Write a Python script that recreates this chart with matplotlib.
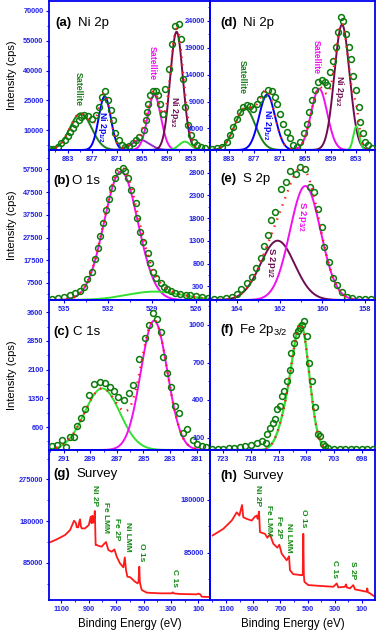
import numpy as np
import matplotlib
matplotlib.use('Agg')
import matplotlib.pyplot as plt
from matplotlib.ticker import AutoMinorLocator

plt.rcParams['font.family'] = ['Liberation Sans', 'DejaVu Sans']
plt.rcParams['mathtext.default'] = 'regular'

# ---------------- data ----------------
# (a) Ni 2p, sample 1
ni_a_e = [887.3, 886.5, 885.3, 884.5, 883.7, 882.9, 882.4, 881.8, 881.1, 880.3, 879.8, 879.0, 878.0,
          877.0, 876.2, 875.4, 874.7, 873.9, 873.1, 872.4, 871.9, 871.4, 870.5, 869.8, 869.0, 868.0,
          867.2, 866.4, 865.6, 864.6, 864.0, 863.8, 863.5, 863.0, 862.4, 861.7, 861.0, 860.5, 859.8,
          859.3, 858.5, 857.7, 856.9, 856.1, 855.6, 855.0, 854.6, 853.8, 853.0, 852.3, 851.6, 850.6, 849.8]
ni_a_i = [330, 670, 1670, 3330, 5000, 7000, 9170, 10830, 13000, 15000, 16670, 17500, 17000,
          15830, 17500, 21670, 26670, 29670, 25000, 20000, 15000, 8330, 5000, 2500, 1670, 2170,
          3330, 5000, 6670, 10000, 15000, 19170, 23330, 27500, 29670, 29670, 27500, 23330, 18330,
          30830, 40830, 53330, 62500, 63330, 55800, 35500, 21700, 12500, 7500, 4200, 2500, 1700, 830]
ni_a_cen = [879.8, 874.0, 865.3, 862.0, 856.6, 854.6]
ni_a_hgt = [18500, 27000, 5000, 27800, 59500, 4200]
ni_a_wid = [2.6, 1.45, 2.2, 1.6, 1.55, 1.4]

# (d) Ni 2p, sample 2
ni_d_e = [887.0, 885.9, 884.7, 883.6, 882.8, 882.0, 881.2, 880.4, 879.6, 878.8, 878.0, 877.3, 876.5,
          875.7, 874.7, 873.7, 872.9, 872.1, 871.6, 871.0, 870.2, 869.4, 868.6, 867.8, 867.0, 866.2,
          865.4, 864.6, 864.0, 863.5, 862.7, 861.9, 861.1, 860.3, 859.8, 859.1, 858.5, 857.8, 857.2,
          856.5, 856.0, 855.3, 854.6, 854.2, 853.6, 853.1, 852.4, 852.0, 851.4, 850.9, 850.1, 849.3]
ni_d_i = [150, 310, 620, 1540, 2770, 4310, 5850, 7080, 8000, 8310, 8130, 7700, 8620,
          9540, 10470, 11200, 10960, 9850, 8620, 6770, 4920, 3380, 2150, 920, 620, 1540,
          3080, 4920, 7080, 9230, 11080, 12620, 12930, 12620, 12000, 14460, 16620, 19080, 21860,
          24750, 24010, 21550, 19080, 16930, 13850, 11080, 7990, 5230, 3080, 1540, 920, 310]
ni_d_cen = [879.2, 874.0, 861.7, 856.3, 852.9]
ni_d_hgt = [7700, 10300, 11400, 23300, 4400]
ni_d_wid = [2.4, 1.9, 1.9, 1.8, 0.7]

# (b) O 1s
o_e = [535.8, 535.4, 535.0, 534.6, 534.2, 533.9, 533.6, 533.4, 533.1, 532.9, 532.7, 532.5, 532.3,
       532.1, 531.9, 531.7, 531.5, 531.3, 531.0, 530.8, 530.6, 530.4, 530.1, 530.0, 529.8, 529.6,
       529.3, 529.1, 528.9, 528.7, 528.4, 528.2, 528.0, 527.7, 527.4, 527.1, 526.7, 526.4, 526.0,
       525.6, 525.2]
o_i = [300, 730, 1200, 2000, 2930, 4110, 5870, 9100, 12470, 17900, 22740, 28160, 34030,
       39600, 44300, 49140, 53530, 56900, 57930, 56900, 53530, 48400, 42530, 35930, 30060, 25660,
       20530, 16130, 12470, 9530, 7330, 5870, 4800, 4000, 3300, 2800, 2400, 2000, 1600,
       1300, 1000]
o_cen = [531.1, 528.8]
o_hgt = [56500, 3700]
o_wid = [1.15, 1.9]

# (c) C 1s
c_e = [291.9, 291.5, 291.1, 290.8, 290.5, 290.2, 290.0, 289.7, 289.4, 289.1, 288.7, 288.25, 287.9,
       287.55, 287.25, 286.9, 286.45, 286.1, 285.75, 285.3, 284.9, 284.6, 284.3, 284.0, 283.7, 283.5,
       283.2, 282.95, 282.65, 282.35, 282.0, 281.7, 281.3, 281.0, 280.6, 280.3]
c_i = [100, 130, 260, 90, 330, 330, 630, 830, 1060, 1440, 1720, 1790, 1740,
       1640, 1550, 1390, 1310, 1500, 1700, 2370, 2920, 3270, 3590, 3420, 3090, 2440,
       2020, 1650, 1150, 960, 440, 540, 260, 160, 110, 90]
c_cen = [288.1, 284.2]
c_hgt = [1610, 3380]
c_wid = [1.33, 1.0]

# (e) S 2p
s_e = [165.1, 164.8, 164.5, 164.25, 164.0, 163.8, 163.55, 163.3, 163.1, 162.9, 162.75, 162.55,
       162.4, 162.2, 161.95, 161.7, 161.5, 161.25, 161.05, 160.8, 160.6, 160.4, 160.2, 160.0,
       159.9, 159.7, 159.5, 159.3, 159.1, 158.86, 158.6, 158.3, 158.0, 157.7]
s_i = [20, 30, 50, 73, 132, 235, 367, 513, 697, 917, 1188, 1430,
       1760, 1943, 2435, 2603, 2845, 2772, 2919, 2875, 2479, 2383, 2000, 1613,
       1173, 843, 477, 330, 183, 73, 40, 30, 25, 20]
s_cen = [162.1, 160.8]
s_hgt = [1305, 2508]
s_wid = [0.8, 0.72]

# (f) Fe 2p3/2
fe_e = [725.0, 724.0, 723.0, 722.0, 721.0, 720.0, 719.0, 718.0, 717.0, 716.0, 715.3, 715.05,
        714.6, 714.1, 713.6, 713.3, 712.8, 712.4, 712.05, 711.45, 711.0, 710.7, 710.3, 709.9,
        709.5, 709.1, 708.7, 708.35, 707.9, 707.45, 707.0, 706.45, 705.9, 705.5, 705.0, 704.7,
        704.0, 703.0, 702.0, 701.0, 700.0, 699.0, 698.0, 697.0, 696.0]
fe_i = [10, 10, 12, 15, 18, 22, 30, 40, 60, 75, 55, 128,
        175, 220, 250, 325, 350, 430, 475, 555, 640, 775, 860, 920,
        950, 975, 1000, 1035, 910, 700, 555, 345, 130, 110, 50, 30,
        15, 10, 8, 6, 5, 5, 5, 5, 5]
fe_cen = [708.9, 711.5]
fe_hgt = [950, 250]
fe_wid = [1.5, 1.5]

# (g) survey, sample 1
sv_g_e = [1191, 1135, 1074, 1037, 1008, 995, 988, 977, 970, 964, 958, 952, 928, 900, 886, 880, 874,
          868, 862, 856, 850, 842, 830, 806, 789, 774, 757, 732, 713, 696, 672, 647, 637, 628, 618,
          598, 562, 544, 537, 531, 527, 520, 513, 476, 379, 293, 285, 278, 233, 111, 100, 86, 74, 40, 14]
sv_g_i = [130500, 138200, 148000, 159500, 180700, 176000, 166000, 165600, 178000, 183800, 168000,
          163300, 163300, 171000, 190000, 175000, 192000, 176000, 181000, 203000, 125300, 125300,
          123700, 121500, 127600, 132100, 113900, 110100, 115400, 98700, 83500, 74400, 97200, 68300,
          53200, 52000, 41800, 38000, 40000, 75900, 41800, 31000, 22800, 16700, 15200, 15200, 17500,
          15000, 13700, 12900, 14500, 13000, 7500, 7000, 6800]

# (h) survey, sample 2
sv_h_e = [1198, 1120, 1058, 1021, 1002, 982, 973, 948, 911, 887, 874, 867, 857, 850, 813, 796, 776,
          752, 722, 708, 690, 653, 636, 629, 605, 543, 535, 531, 527, 523, 494, 310, 285, 273, 224,
          217, 210, 187, 163, 150, 64, 60, 55, 40, 3]
sv_h_i = [115800, 127600, 142500, 157300, 151400, 170400, 148400, 145500, 142500, 149600, 151400,
          145500, 158500, 121700, 118700, 111600, 117500, 100900, 93800, 99100, 83100, 71200, 78400,
          53400, 46300, 44500, 45000, 118700, 45000, 32700, 26700, 23700, 29700, 22600, 23700, 28000,
          22500, 20800, 26700, 19000, 14800, 20800, 14000, 11900, 5900]

sv_g_labels = ['Ni 2P', 'Fe LMM', 'Fe 2P', 'Ni LMM', 'O 1s', 'C 1s']
sv_g_lab_e = [862, 781, 701, 620, 518, 277]
sv_g_lab_i = [239000, 189000, 161700, 143500, 109300, 50100]
sv_h_labels = ['Ni 2P', 'Fe LMM', 'Fe 2P', 'Ni LMM', 'O 1s', 'C 1s', 'S 2P']
sv_h_lab_e = [865, 784, 710, 641, 533, 298, 172]
sv_h_lab_i = [187000, 142500, 130000, 112200, 146000, 55200, 53400]

# ticks
ni_xticks = [883, 877, 871, 865, 859, 853]
a_yticks = [10000, 25000, 40000, 55000, 70000]
d_yticks = [4000, 9000, 14000, 19000, 24000]
o_xticks = [535, 532, 529, 526]
o_yticks = [7500, 17500, 27500, 37500, 47500, 57500]
c_xticks = [291, 289, 287, 285, 283, 281]
c_yticks = [600, 1350, 2100, 2850, 3600]
s_xticks = [164, 162, 160, 158]
s_yticks = [300, 800, 1300, 1800, 2300, 2800]
fe_xticks = [723, 718, 713, 708, 703, 698]
fe_yticks = [100, 400, 700, 1000]
sv_xticks = [1100, 900, 700, 500, 300, 100]
g_yticks = [85000, 180000, 275000]
h_yticks = [85000, 180000]

# ---------------- style ----------------
BLUE = '#0000F0'
TICKC = '#2323E8'
DKGREEN = '#1C7F1C'
CIRC = '#0B7A0B'
LTGREEN = '#33E033'
MAG = '#F010F0'
MAROON = '#6E0E52'
VIOLET = '#9A2ACB'
RED = '#FF1A1A'

fig = plt.figure(figsize=(3.8, 6.35), dpi=100)
W, H = 380.0, 635.0
cols = [(49, 210), (210, 375)]
rows = [(1, 150), (150, 300), (300, 450), (450, 600)]


def gauss(x, c, h, s):
    return h * np.exp(-(x - c) ** 2 / (2 * s ** 2))


def make_ax(col, row, xlim, ylim, xt, yt):
    x0, x1 = cols[col]
    y0, y1 = rows[row]
    ax = fig.add_axes([x0 / W, 1 - y1 / H, (x1 - x0) / W, (y1 - y0) / H])
    ax.set_facecolor('none')
    for sp in ax.spines.values():
        sp.set_color(BLUE)
        sp.set_linewidth(1.3)
    ax.set_xlim(*xlim)
    ax.set_ylim(*ylim)
    ax.set_xticks(xt, [str(v) for v in xt], fontweight='bold')
    ax.set_yticks(yt, [str(v) for v in yt], fontweight='bold')
    ax.xaxis.set_minor_locator(AutoMinorLocator(2))
    ax.yaxis.set_minor_locator(AutoMinorLocator(2))
    ax.tick_params(which='major', direction='out', length=2.5, width=0.8, color=BLUE,
                   labelcolor=TICKC, labelsize=5.3, pad=1.5)
    ax.tick_params(which='minor', direction='out', length=1.5, width=0.6, color=BLUE)
    return ax


def title(ax, tag, name, x1, x2, y):
    ax.text(x1, y, tag, transform=ax.transAxes, fontsize=9.5, fontweight='bold',
            ha='left', va='center')
    ax.text(x2, y, name, transform=ax.transAxes, fontsize=9.5, ha='left', va='center')


def peaks(ax, e, i, cen, hgt, wid, colors, xlim, lw=1.4):
    x = np.linspace(min(xlim), max(xlim), 600)
    total = np.zeros_like(x)
    for c, h, s, col in zip(cen, hgt, wid, colors):
        y = gauss(x, c, h, s)
        total += y
        if col is not None:
            ax.plot(x, y, color=col, lw=lw, zorder=2)
    ax.plot(e, i, 'o', mfc='none', mec=CIRC, ms=4.2, mew=1.1, zorder=3)
    ax.plot(x, total, color=RED, lw=1.7, ls=(0, (0.6, 2.6)), zorder=4)
    return x, total


def vlabel(ax, x, y, s, color, fs=6.3):
    ax.text(x, y, s, color=color, rotation=270, ha='center', va='center',
            fontsize=fs, fontweight='bold', zorder=5)


# (a)
ax = make_ax(0, 0, (887.5, 848.5), (0, 75000), ni_xticks, a_yticks)
peaks(ax, ni_a_e, ni_a_i, ni_a_cen, ni_a_hgt, ni_a_wid,
      [DKGREEN, '#0000FF', VIOLET, MAG, MAROON, LTGREEN], (887.5, 848.5))
title(ax, '(a)', 'Ni 2p', 0.037, 0.18, 0.853)
vlabel(ax, 880.4, 30500, 'Satellite', DKGREEN)
vlabel(ax, 874.5, 11500, 'Ni 2p$_{1/2}$', '#0000FF')
vlabel(ax, 862.4, 44000, 'Satellite', MAG)
vlabel(ax, 857.0, 19000, 'Ni 2p$_{3/2}$', MAROON)

# (d)
ax = make_ax(1, 0, (887.5, 848.5), (0, 27700), ni_xticks, d_yticks)
peaks(ax, ni_d_e, ni_d_i, ni_d_cen, ni_d_hgt, ni_d_wid,
      [DKGREEN, '#0000FF', MAG, MAROON, LTGREEN], (887.5, 848.5))
title(ax, '(d)', 'Ni 2p', 0.06, 0.2, 0.853)
vlabel(ax, 879.9, 13480, 'Satellite', DKGREEN)
vlabel(ax, 874.0, 4620, 'Ni 2p$_{1/2}$', '#0000FF')
vlabel(ax, 862.4, 17360, 'Satellite', MAG)
vlabel(ax, 856.8, 10900, 'Ni 2p$_{3/2}$', MAROON)

# (b)
ax = make_ax(0, 1, (536.0, 525.05), (0, 66000), o_xticks, o_yticks)
peaks(ax, o_e, o_i, o_cen, o_hgt, o_wid, [MAG, LTGREEN], (536.0, 525.05))
title(ax, '(b)', 'O 1s', 0.03, 0.143, 0.793)

# (e)
ax = make_ax(1, 1, (165.27, 157.53), (0, 3300), s_xticks, s_yticks)
peaks(ax, s_e, s_i, s_cen, s_hgt, s_wid, [MAROON, MAG], (165.27, 157.53))
title(ax, '(e)', 'S 2p', 0.06, 0.2, 0.807)
vlabel(ax, 160.94, 1833, 'S 2p$_{3/2}$', MAG, fs=6.8)
vlabel(ax, 162.42, 814, 'S 2p$_{1/2}$', MAROON, fs=6.8)

# (c)
ax = make_ax(0, 2, (292.1, 280.0), (0, 3920), c_xticks, c_yticks)
peaks(ax, c_e, c_i, c_cen, c_hgt, c_wid, [LTGREEN, MAG], (292.1, 280.0))
title(ax, '(c)', 'C 1s', 0.03, 0.149, 0.787)

# (f)
ax = make_ax(1, 2, (725.4, 695.6), (0, 1200), fe_xticks, fe_yticks)
xf, tf = peaks(ax, fe_e, fe_i, fe_cen, fe_hgt, fe_wid, [None, None], (725.4, 695.6))
ax.plot(xf, tf, color=LTGREEN, lw=1.6, zorder=2)
title(ax, '(f)', 'Fe 2p$_{3/2}$', 0.06, 0.176, 0.8)

# (g)
ax = make_ax(0, 3, (1191, 14), (0, 342000), sv_xticks, g_yticks)
ax.plot(sv_g_e, sv_g_i, color=RED, lw=1.3)
for s, xe, yi in zip(sv_g_labels, sv_g_lab_e, sv_g_lab_i):
    vlabel(ax, xe, yi, s, '#118811', fs=6.0)
title(ax, '(g)', 'Survey', 0.025, 0.168, 0.84)

# (h)
ax = make_ax(1, 3, (1218, 3), (0, 269000), sv_xticks, h_yticks)
ax.plot(sv_h_e, sv_h_i, color=RED, lw=1.3)
for s, xe, yi in zip(sv_h_labels, sv_h_lab_e, sv_h_lab_i):
    vlabel(ax, xe, yi, s, '#118811', fs=6.0)
title(ax, '(h)', 'Survey', 0.06, 0.194, 0.827)

# axis titles
for yc in (75, 225, 375):
    fig.text(12 / W, 1 - yc / H, 'Intensity (cps)', rotation=90, ha='center', va='center',
             fontsize=8)
for xc in (129.5, 292.5):
    fig.text(xc / W, 1 - 624 / H, 'Binding Energy (eV)', ha='center', va='center', fontsize=8.3)

fig.savefig('out.png', dpi=100, facecolor='white')
